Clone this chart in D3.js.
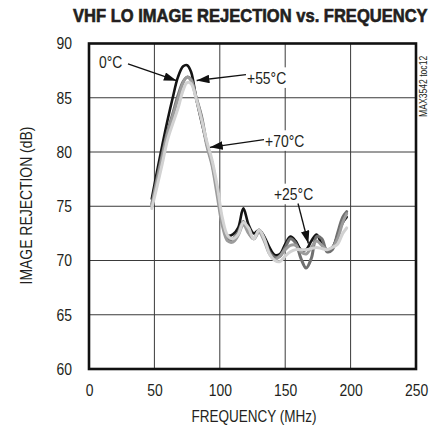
<!DOCTYPE html>
<html><head><meta charset="utf-8">
<script src="https://cdn.jsdelivr.net/npm/d3@7"></script>
<style>
html,body{margin:0;padding:0;background:#fff;}
svg{display:block;}
text{font-family:"Liberation Sans","Arial",sans-serif;fill:#231f20;}
</style></head>
<body>
<svg id="chart" width="432" height="431"></svg>
<script>
const title = "VHF LO IMAGE REJECTION vs. FREQUENCY";
const xTitle = "FREQUENCY (MHz)";
const yTitle = "IMAGE REJECTION (dB)";
const sideNote = "MAX3542 toc12";
const xTicks = [0, 50, 100, 150, 200, 250];
const yTicks = [60, 65, 70, 75, 80, 85, 90];

const freq = [48,52,56,60,64,68,72,75,78,82,86,90,94,98,102,106,110,114,118,122,126,130,134,138,142,146,150,154,158,162,166,170,174,178,182,186,190,194,197];
const t0 = [75.7,78.2,80.6,82.9,85.0,86.9,87.9,88.0,87.4,84.9,82.8,80.8,79.1,76.5,73.5,72.3,72.4,73.0,74.8,73.3,72.5,72.8,72.2,71.2,70.5,70.6,71.5,72.2,71.8,71.0,71.0,71.8,72.4,71.5,71.0,71.2,72.3,73.5,74.0];
const t25 = [75.2,77.6,79.8,81.9,83.5,85.2,86.5,86.9,86.7,85.0,83.3,80.8,79.0,76.5,73.5,72.0,72.0,72.6,73.6,72.6,72.0,72.8,72.0,70.8,70.3,70.4,71.2,72.0,71.6,70.2,69.3,70.2,72.2,72.0,70.8,71.0,72.5,74.0,74.5];
const t55 = [75.0,77.3,79.5,81.7,83.3,84.9,86.4,86.9,86.6,84.9,83.1,80.6,78.8,76.0,73.2,71.8,71.7,72.3,73.3,72.5,72.0,72.6,71.8,70.6,70.1,70.4,71.0,71.4,71.4,70.8,70.6,71.2,71.8,71.4,71.0,71.2,72.0,73.5,74.3];
const t70 = [74.8,76.8,78.9,81.1,82.6,84.0,85.7,86.4,86.3,84.9,83.0,81.0,79.3,76.9,73.9,72.3,72.0,72.4,73.5,73.0,72.0,72.8,72.0,70.6,70.0,69.9,70.4,70.8,71.0,71.0,71.0,71.1,71.2,71.1,71.0,71.2,71.5,72.5,73.0];

const seriesNames = ["0°C", "+25°C", "+55°C", "+70°C"];
const seriesValues = [t0, t25, t55, t70];
const seriesColors = ["#141414", "#707070", "#9c9c9c", "#d2d2d2"];

// annotation: label, text anchor point (f, dB), arrow start (f, dB), arrow tip (f, dB)
const annoLabels = ["0°C", "+55°C", "+70°C", "+25°C"];
const annoText = [[7.6, 87.75], [120.8, 86.3], [134.6, 80.5], [141.4, 75.58]];
const annoFrom = [[29.8, 88.12], [120, 87.14], [133.8, 81.15], [159.8, 75.25]];
const annoTip = [[67.0, 86.57], [82.3, 86.59], [92.5, 80.43], [167.7, 71.57]];

const NARROW = 0.82;
const svg = d3.select("#chart");
const x = d3.scaleLinear().domain([0, 250]).range([89, 416]);
const y = d3.scaleLinear().domain([60, 90]).range([369, 43.5]);

function narrowText(sel, ax, ay, s) {
  sel.attr("transform", `translate(${ax},${ay}) scale(${s},1) translate(${-ax},${-ay})`);
}

// gridlines
const grid = svg.append("g");
grid.selectAll("line.v").data(xTicks.slice(1, -1)).enter().append("line")
  .attr("x1", d => x(d)).attr("x2", d => x(d)).attr("y1", y(90)).attr("y2", y(60))
  .attr("stroke", "#3a3a3a").attr("stroke-width", 1);
grid.selectAll("line.h").data(yTicks.slice(1, -1)).enter().append("line")
  .attr("x1", x(0)).attr("x2", x(250)).attr("y1", d => y(d)).attr("y2", d => y(d))
  .attr("stroke", "#3a3a3a").attr("stroke-width", 1);

// axes
const xAxis = d3.axisBottom(x).tickValues(xTicks).tickSize(0).tickPadding(15).tickFormat(d3.format("d"));
const gx = svg.append("g").attr("transform", `translate(0,${y(60)})`).call(xAxis);
gx.select(".domain").remove();
gx.selectAll("text").attr("font-size", 17).attr("fill", "#231f20")
  .style("font-family", '"Liberation Sans",Arial,sans-serif')
  .attr("transform", `scale(${NARROW},1)`);

const yAxis = d3.axisLeft(y).tickValues(yTicks).tickSize(0).tickPadding(17 / NARROW).tickFormat(d3.format("d"));
const gy = svg.append("g").attr("transform", `translate(${x(0)},0)`).call(yAxis);
gy.select(".domain").remove();
gy.selectAll("text").attr("font-size", 17).attr("fill", "#231f20")
  .style("font-family", '"Liberation Sans",Arial,sans-serif')
  .attr("transform", `scale(${NARROW},1)`);

// curves
const line = d3.line().x((d, i) => x(freq[i])).y(d => y(d)).curve(d3.curveCatmullRom.alpha(0.5));
svg.append("clipPath").attr("id", "plotclip").append("rect")
  .attr("x", x(0)).attr("y", y(90)).attr("width", x(250) - x(0)).attr("height", y(60) - y(90));
svg.append("g").attr("clip-path", "url(#plotclip)")
  .selectAll("path").data(seriesValues).enter().append("path")
  .attr("d", d => line(d))
  .attr("fill", "none")
  .attr("stroke", (d, i) => seriesColors[i])
  .attr("stroke-width", (d, i) => i === 0 ? 2.6 : 3)
  .attr("stroke-linejoin", "round").attr("stroke-linecap", "round");

// frame
svg.append("rect").attr("x", x(0)).attr("y", y(90))
  .attr("width", x(250) - x(0)).attr("height", y(60) - y(90))
  .attr("fill", "none").attr("stroke", "#111").attr("stroke-width", 2.6);

// annotations
svg.append("defs").append("marker").attr("id", "arrow")
  .attr("viewBox", "0 0 12 8").attr("refX", 12).attr("refY", 4)
  .attr("markerWidth", 13).attr("markerHeight", 8.5).attr("markerUnits", "userSpaceOnUse")
  .attr("orient", "auto")
  .append("path").attr("d", "M0,0 L12,4 L0,8 Z").attr("fill", "#111");

const ann = svg.append("g");
annoLabels.forEach((lab, i) => {
  const tx = x(annoText[i][0]), ty = y(annoText[i][1]);
  const t = ann.append("text").attr("x", tx).attr("y", ty)
    .attr("font-size", 17).text(lab);
  narrowText(t, tx, ty, NARROW);
  const bb = t.node().getBBox();
  const w = bb.width * NARROW;
  ann.insert("rect", "text").attr("x", tx - 2).attr("y", bb.y - 1)
    .attr("width", w + 4).attr("height", bb.height + 2).attr("fill", "#fff");
  ann.append("line")
    .attr("x1", x(annoFrom[i][0])).attr("y1", y(annoFrom[i][1]))
    .attr("x2", x(annoTip[i][0])).attr("y2", y(annoTip[i][1]))
    .attr("stroke", "#111").attr("stroke-width", 1.3)
    .attr("marker-end", "url(#arrow)");
});

// titles
const tt = svg.append("text").attr("x", 73).attr("y", 22.5).attr("font-size", 17.5).attr("font-weight", "bold")
  .attr("stroke", "#231f20").attr("stroke-width", 0.6).text(title);
const natural = tt.node().getComputedTextLength();
narrowText(tt, 73, 22.5, 355 / natural);

const xt = svg.append("text").attr("x", 254).attr("y", 422).attr("text-anchor", "middle")
  .attr("font-size", 16.5).text(xTitle);
narrowText(xt, 254, 422, NARROW);

const yg = svg.append("g").attr("transform", "translate(32,205.5) rotate(-90)");
yg.append("text").attr("x", 0).attr("y", 0).attr("text-anchor", "middle")
  .attr("font-size", 17).attr("transform", `scale(${NARROW},1)`).text(yTitle);

const sg = svg.append("g").attr("transform", "translate(426.5,117) rotate(-90)");
sg.append("text").attr("font-size", 10.5).attr("fill", "#444")
  .attr("transform", `scale(${NARROW},1)`).text(sideNote);
</script>
</body></html>
